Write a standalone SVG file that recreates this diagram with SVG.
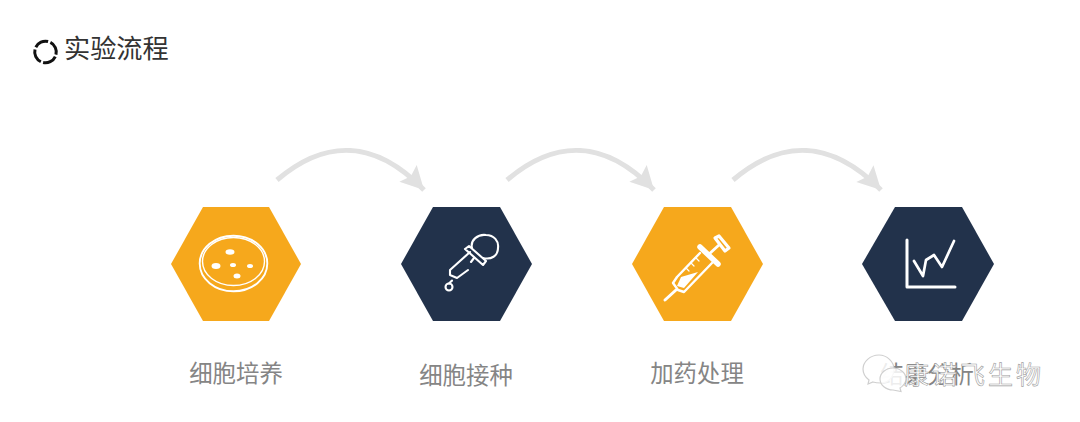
<svg xmlns="http://www.w3.org/2000/svg" width="1080" height="422" viewBox="0 0 1080 422">
<style>
.o{fill:#f6a81c}.n{fill:#22324b}
.i{fill:none;stroke:#fff;stroke-linecap:round;stroke-linejoin:round}
.w{fill:#fff}
.c{fill:none;stroke:#e1e1e1;stroke-width:5}
.l{font-family:"Liberation Sans","Noto Sans CJK SC",sans-serif;font-size:23.400px;fill:#858585;text-anchor:middle}
.t{font-family:"Noto Sans CJK SC",sans-serif;font-size:26.200px;fill:#333}
</style>
<defs><marker id="a" markerUnits="userSpaceOnUse" markerWidth="26" markerHeight="26" refX="24" refY="13" orient="auto"><path d="M1 1L24 13L1 25L5 13Z" fill="#e1e1e1"/></marker></defs>
<rect width="1080" height="422" fill="#fff"/>
<g id="title">
<circle cx="45.500" cy="52" r="10.800" fill="none" stroke="#111" stroke-width="3" stroke-dasharray="14.500 2.470" transform="rotate(25 45.500 52)"/>
<text class="t" x="64" y="58">实验流程</text>
</g>
<g id="connectors">
<path class="c" d="M277 180C325 139 375 139 424 190" marker-end="url(#a)"/>
<path class="c" d="M507 180C555 139 605 139 654 190" marker-end="url(#a)"/>
<path class="c" d="M733 180C781 139 831 139 881 190" marker-end="url(#a)"/>
</g>
<g id="node1">
<polygon class="o" points="171,264 203,207 269,207 301,264 269,321 203,321"/>
<g class="i" stroke-width="1.900"><ellipse cx="233.500" cy="263.500" rx="33.800" ry="27.800"/><ellipse cx="233.500" cy="261.500" rx="31" ry="24" stroke-width="1.400"/></g>
<ellipse class="w" cx="230" cy="252" rx="4.500" ry="2.800"/><ellipse class="w" cx="216" cy="266" rx="4.500" ry="3"/><ellipse class="w" cx="233" cy="265" rx="3" ry="2"/><ellipse class="w" cx="250" cy="266" rx="3" ry="2"/><ellipse class="w" cx="237" cy="276" rx="3.500" ry="2.500"/>
<text class="l" x="236" y="382">细胞培养</text>
</g>
<g id="node2">
<polygon class="n" points="401,264 433,207 500,207 532,264 500,321 433,321"/>
<g class="i" stroke-width="2.100">
<path d="M472 248C470 240 478 234 486 235C494 235 499 241 498 248C498 256 491 260 483 258"/>
<path d="M465 249L469 246L486 261L483 265Z"/>
<path d="M470 252L450 270V275L457 278L468 270M474 258L471 262"/>
<circle cx="449" cy="287" r="3.500"/><path d="M449 283.500L452 280.500"/>
</g>
<text class="l" x="466" y="384">细胞接种</text>
</g>
<g id="node3">
<polygon class="o" points="632,264 664,207 731,207 763,264 731,321 664,321"/>
<g class="i">
<path d="M665 300L676 290" stroke-width="3"/>
<path d="M700 247L718 264" stroke-width="5.500"/>
<path d="M700 253L677 277L673 283L678 290L684 292L712 263" stroke-width="2.400"/>
<path d="M708 255L719 245" stroke-width="2.800"/>
<path d="M715 238L719 236L729 248L725 251Z" stroke-width="3.200"/>
<path d="M686 268L689 271M691 263L694 266M696 258L699 261" stroke-width="1.200"/>
</g>
<path class="w" d="M681 277L698 272L684 288L677 286Z"/>
<text class="l" x="697" y="382">加药处理</text>
</g>
<g id="node4">
<polygon class="n" points="862,264 895,207 962,207 994,264 962,321 895,321"/>
<path class="i" stroke-width="3" stroke-linecap="butt" stroke-linejoin="miter" d="M907 240V287H955"/>
<path class="i" stroke-width="2.700" d="M914 261L923 276L926 260L934 255L942 267L954 241"/>
<text class="l" x="927" y="383">结果分析</text>
</g>
<g id="watermark">
<g fill="#fff" fill-opacity=".85" stroke="#cfcfcf" stroke-width="1.200"><path d="M879 355C870 355 863 362 863 369C863 374 865 377 869 380L868 384L873 382C876 383 878 383 881 383C889 383 894 376 894 369C894 362 887 355 879 355Z"/><path d="M893 368C886 368 880 373 880 379C880 385 886 390 893 390L901 391.500L900 388C903 386 906 383 906 379C906 373 900 368 893 368Z"/></g>
<text x="904" y="384" font-family="Noto Sans CJK SC,sans-serif" font-size="25" fill="#fff" stroke="#a0a0a0" stroke-width=".6" letter-spacing="3">康诺飞生物</text>
</g>
</svg>
